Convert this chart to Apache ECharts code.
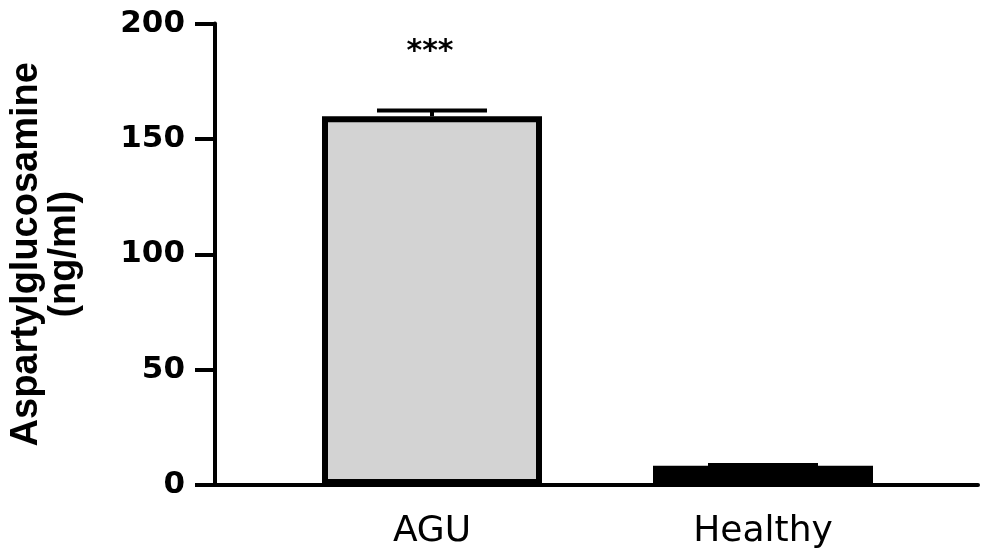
<!DOCTYPE html>
<html>
<head>
<meta charset="utf-8">
<script src="https://cdn.jsdelivr.net/npm/echarts@6/dist/echarts.min.js"></script>
<style>
html,body{margin:0;padding:0;background:#fff;}
#chart{width:981px;height:554px;}
</style>
</head>
<body>
<div id="chart"></div>
<script>
// ---- data ----
const categories = ['AGU', 'Healthy'];
const means = [159.8, 8.3];
const errUpper = [162.3, 8.7];
const sigLabels = ['***', ''];
const yMin = 0, yMax = 200, yInterval = 50;
const yTitle = 'Aspartylglucosamine\n(ng/ml)';

// ---- styles ----
const fills = ['#d3d3d3', '#000000'];
const FONT = 'Liberation Sans, Arial, sans-serif';
const WIDE = 'DejaVu Sans, sans-serif';

const chart = echarts.init(document.getElementById('chart'), null, {renderer: 'canvas'});

const errData = categories.map((c, i) => [i, means[i], errUpper[i]]);

const option = {
  animation: false,
  backgroundColor: '#fff',
  grid: [
    {left: 213, right: 3, top: 23.5, bottom: 69},
    {left: 266.5, right: 52.5, top: 23.5, bottom: 69}
  ],
  xAxis: [
    {
      type: 'category', gridIndex: 0, data: categories,
      axisLine: {show: true, lineStyle: {color: '#000', width: 4}},
      axisTick: {show: false}, axisLabel: {show: false}, splitLine: {show: false}
    },
    {
      type: 'category', gridIndex: 1, data: categories,
      axisLine: {show: false}, axisTick: {show: false}, splitLine: {show: false},
      axisLabel: {fontSize: 36, color: '#000', fontFamily: WIDE, margin: 29}
    }
  ],
  yAxis: [
    {
      type: 'value', gridIndex: 0, min: yMin, max: yMax, interval: yInterval,
      axisLine: {show: true, lineStyle: {color: '#000', width: 4}},
      axisTick: {show: true, length: 20, lineStyle: {color: '#000', width: 4}},
      splitLine: {show: false},
      axisLabel: {fontSize: 31, fontWeight: 'bold', color: '#000', fontFamily: WIDE, margin: 30},
      name: yTitle, nameLocation: 'middle', nameGap: 131, nameRotate: 90,
      nameTextStyle: {fontSize: 38, fontWeight: 'bold', color: '#000', fontFamily: FONT, lineHeight: 38}
    },
    {type: 'value', gridIndex: 1, min: yMin, max: yMax, interval: yInterval, show: false}
  ],
  series: [
    {
      type: 'bar', xAxisIndex: 1, yAxisIndex: 1,
      data: means, barWidth: 220,
      itemStyle: {
        color: p => fills[p.dataIndex],
        borderColor: '#000', borderWidth: 6
      }
    },
    {
      type: 'custom', xAxisIndex: 1, yAxisIndex: 1,
      data: errData, z: 5,
      renderItem: function (params, api) {
        const x = api.value(0);
        const base = api.coord([x, api.value(1)]);
        const top = api.coord([x, api.value(2)]);
        const half = 55;
        const children = [
          {type: 'line', shape: {x1: top[0], y1: base[1], x2: top[0], y2: top[1]},
           style: {stroke: '#000', lineWidth: 4}},
          {type: 'line', shape: {x1: top[0] - half, y1: top[1], x2: top[0] + half, y2: top[1]},
           style: {stroke: '#000', lineWidth: 4}}
        ];
        const lbl = sigLabels[params.dataIndex];
        if (lbl) {
          children.push({type: 'text', style: {
            text: lbl, x: top[0] - 2, y: top[1] - 58,
            align: 'center', verticalAlign: 'middle',
            fontSize: 30, fontWeight: 'bold', fontFamily: WIDE, fill: '#000'
          }});
        }
        return {type: 'group', children: children};
      }
    }
  ]
};
chart.setOption(option);
</script>
</body>
</html>
